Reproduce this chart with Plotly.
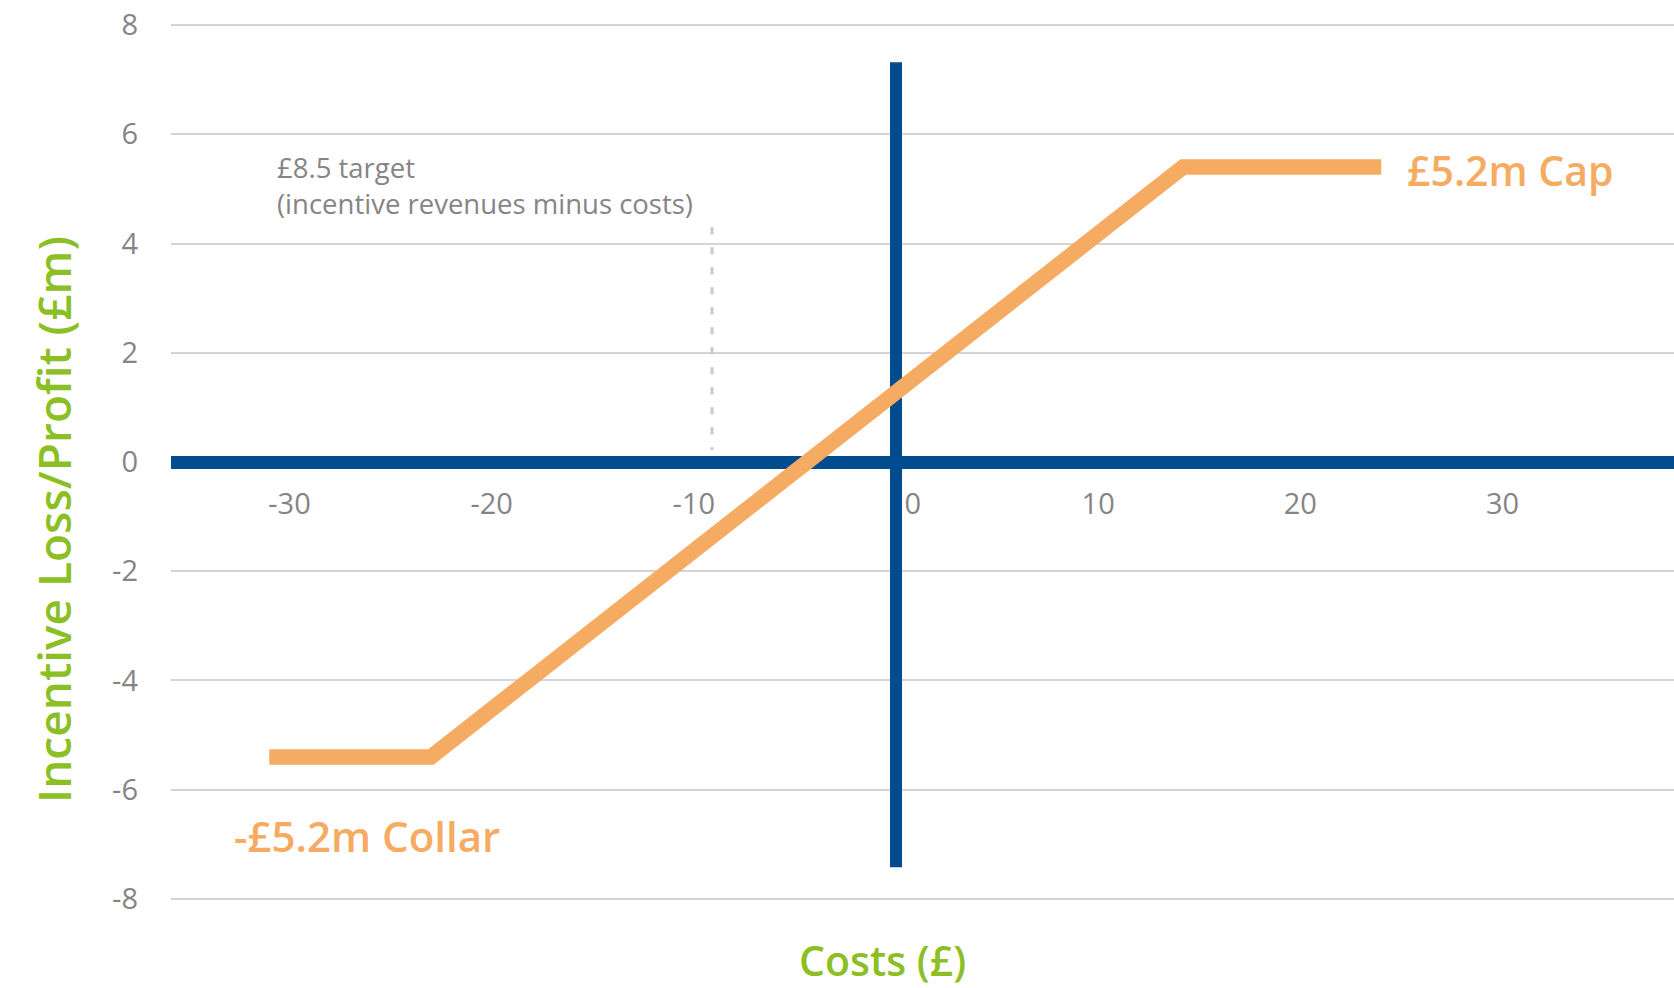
import plotly.graph_objects as go

# ---- data ----
payoff_x = [-31.0, -23.0, 14.2, 24.0]
payoff_y = [-5.4, -5.4, 5.4, 5.4]
target_x = [-9.1, -9.1]
target_y = [4.3, 0.22]
vaxis_x = [0, 0]
vaxis_y = [-7.42, 7.32]
x_ticks = [-30, -20, -10, 0, 10, 20, 30]
x_ticktext = ["-30", "-20", "-10", "\u2003\u20090", "10", "20", "30"]
y_ticks = [-8, -6, -4, -2, 0, 2, 4, 6, 8]
y_ticktext = ["-8", "-6", "-4", "-2", "0", "2", "4", "6", "8"]

BLUE = "#004C8F"
ORANGE = "#F6AB63"
GREEN = "#8CBF26"
GRAY = "#858585"
FONT = "Open Sans"

fig = go.Figure()
fig.add_trace(go.Scatter(x=target_x, y=target_y, mode="lines",
                         line=dict(color="#C8C8C8", width=3, dash="7px,13px"),
                         hoverinfo="skip"))
fig.add_trace(go.Scatter(x=vaxis_x, y=vaxis_y, mode="lines",
                         line=dict(color=BLUE, width=12), hoverinfo="skip"))
fig.add_trace(go.Scatter(x=payoff_x, y=payoff_y, mode="lines",
                         line=dict(color=ORANGE, width=15.5), hoverinfo="skip"))

fig.update_layout(
    width=1674, height=988,
    margin=dict(l=171, r=0, t=24, b=88),
    paper_bgcolor="white", plot_bgcolor="white",
    showlegend=False,
    font=dict(family=FONT, color=GRAY),
    xaxis=dict(range=[-35.86, 38.48], tickvals=x_ticks, ticktext=x_ticktext,
               showgrid=False, zeroline=False, showline=False, ticks="",
               anchor="free", position=0.5, ticklabelstandoff=22,
               tickfont=dict(size=29, color=GRAY, family=FONT)),
    yaxis=dict(range=[-8.02, 8.02], tickvals=y_ticks, ticktext=y_ticktext,
               showgrid=True, gridcolor="#D4D4D4", gridwidth=2,
               zeroline=True, zerolinecolor=BLUE, zerolinewidth=13,
               showline=False, ticks="", ticklabelstandoff=32,
               tickfont=dict(size=29, color=GRAY, family=FONT)),
    annotations=[
        dict(text="£8.5 target<br>(incentive revenues minus costs)",
             x=-30.7, y=5.06, xref="x", yref="y", xanchor="left", yanchor="middle",
             align="left", showarrow=False,
             font=dict(size=27.5, color=GRAY, family=FONT)),
        dict(text="£5.2m Cap", x=1510, y=5.34, xref="x", yref="y",
             showarrow=False, font=dict(size=41, color=ORANGE, family=FONT, weight=600)),
        dict(text="-£5.2m Collar", x=367, y=-6.83, xref="x", yref="y",
             showarrow=False, font=dict(size=42, color=ORANGE, family=FONT, weight=600)),
        dict(text="Incentive Loss/Profit (£m)", textangle=-90,
             x=(53 - 171) / 1503, y=-1.06, xref="paper", yref="y",
             xanchor="center", yanchor="middle", showarrow=False,
             font=dict(size=46, color=GREEN, family=FONT, weight=600)),
        dict(text="Costs (£)", x=(882 - 171) / 1503, y=(900 - 960) / 876,
             xref="paper", yref="paper", xanchor="center", yanchor="middle",
             showarrow=False, font=dict(size=41, color=GREEN, family=FONT, weight=600)),
    ],
)

# convert pixel x positions of orange labels into data coordinates
px_per_unit = 1503 / (38.48 + 35.86)
for ann in fig.layout.annotations:
    if ann.text in ("£5.2m Cap", "-£5.2m Collar"):
        ann.x = (ann.x - 896) / px_per_unit

fig.write_html("out.html")
